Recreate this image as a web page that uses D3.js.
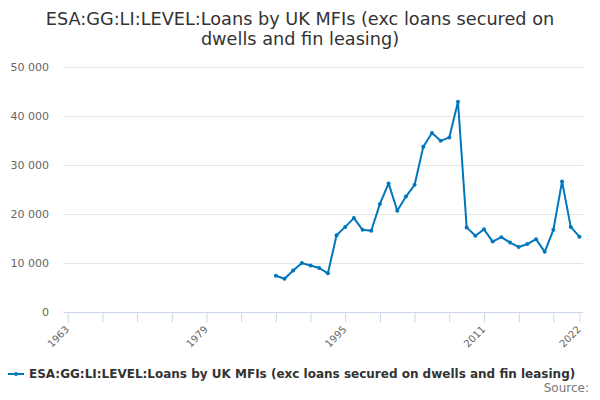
<!DOCTYPE html>
<html>
<head>
<meta charset="utf-8">
<script src="https://cdn.jsdelivr.net/npm/d3@7"></script>
<style>
  body { margin: 0; background: #fff; }
  svg { font-family: "DejaVu Sans", sans-serif; }
  .grid line { stroke: #e6e6e6; }
</style>
</head>
<body>
<svg id="chart" width="600" height="400"></svg>
<script>
// data
const years = [1987, 1988, 1989, 1990, 1991, 1992, 1993, 1994, 1995, 1996, 1997, 1998,
  1999, 2000, 2001, 2002, 2003, 2004, 2005, 2006, 2007, 2008, 2009, 2010, 2011, 2012,
  2013, 2014, 2015, 2016, 2017, 2018, 2019, 2020, 2021, 2022];
const values = [7300, 6700, 8400, 9900, 9400, 8900, 7800, 15600, 17300, 19100, 16700, 16500,
  22000, 26200, 20600, 23500, 25900, 33700, 36500, 34900, 35600, 42900, 17200, 15500, 16800, 14300,
  15200, 14100, 13200, 13800, 14800, 12200, 16700, 26600, 17300, 15300];
const xTicks = [1963, 1967, 1971, 1975, 1979, 1983, 1987, 1991, 1995, 1999, 2003, 2007, 2011, 2015, 2019, 2022];
const xLabels = [1963, 1979, 1995, 2011, 2022];
const yTicks = [0, 10000, 20000, 30000, 40000, 50000];

const title1 = "ESA:GG:LI:LEVEL:Loans by UK MFIs (exc loans secured on";
const title2 = "dwells and fin leasing)";
const seriesName = "ESA:GG:LI:LEVEL:Loans by UK MFIs (exc loans secured on dwells and fin leasing)";

const margin = { left: 64, right: 17, top: 67, bottom: 88.5 };
const width = 600, height = 400;
const plotRight = width - margin.right;
const plotBottom = height - margin.bottom;
const lineColor = "#0077bd";

const svg = d3.select("#chart");

const x = d3.scaleLinear().domain([1963, 2022]).range([67.7, 579.4]);
const y = d3.scaleLinear().domain([0, 50000]).range([plotBottom, margin.top]);

// title
svg.append("text").attr("x", 300).attr("y", 25).attr("text-anchor", "middle")
  .attr("font-size", 17.7).attr("fill", "#333").text(title1);
svg.append("text").attr("x", 300).attr("y", 45).attr("text-anchor", "middle")
  .attr("font-size", 17.7).attr("fill", "#333").text(title2);

// grid
svg.append("g").attr("class", "grid")
  .selectAll("line").data(yTicks.filter(d => d > 0)).enter().append("line")
  .attr("x1", margin.left).attr("x2", plotRight)
  .attr("y1", d => Math.round(y(d)) + 0.5).attr("y2", d => Math.round(y(d)) + 0.5);

// y labels
const fmt = d => d3.format(",")(d).replace(/,/g, " ");
svg.append("g").selectAll("text").data(yTicks).enter().append("text")
  .attr("x", 49).attr("y", d => y(d) + 4)
  .attr("text-anchor", "end").attr("font-size", 11).attr("fill", "#666")
  .text(fmt);

// x axis
const xAxis = d3.axisBottom(x).tickValues(xTicks).tickSize(10)
  .tickFormat(d => xLabels.includes(d) ? d : "");
const gx = svg.append("g").attr("transform", `translate(0,${Math.round(plotBottom) + 0.5})`).call(xAxis);
gx.select(".domain").remove();
gx.selectAll(".tick line").attr("stroke", "#ccd6eb");
gx.append("line").attr("x1", margin.left).attr("x2", plotRight)
  .attr("stroke", "#ccd6eb");
gx.selectAll(".tick text")
  .attr("font-family", "DejaVu Sans, sans-serif")
  .attr("font-size", 10).attr("fill", "#666")
  .attr("text-anchor", "end")
  .attr("y", 0).attr("dy", 0)
  .attr("transform", "translate(1.5,17.5) rotate(-45)");

// line + markers
const line = d3.line().x((d, i) => x(years[i])).y(d => y(d));
svg.append("path").datum(values)
  .attr("d", line).attr("fill", "none")
  .attr("stroke", lineColor).attr("stroke-width", 2)
  .attr("stroke-linejoin", "round");
svg.append("g").selectAll("circle").data(values).enter().append("circle")
  .attr("cx", (d, i) => x(years[i])).attr("cy", d => y(d))
  .attr("r", 2).attr("fill", lineColor);

// legend
svg.append("line").attr("x1", 8).attr("x2", 24).attr("y1", 374).attr("y2", 374)
  .attr("stroke", lineColor).attr("stroke-width", 2);
svg.append("circle").attr("cx", 16).attr("cy", 374).attr("r", 2).attr("fill", lineColor);
svg.append("text").attr("x", 29).attr("y", 378)
  .attr("font-size", 12).attr("font-weight", "bold").attr("fill", "#333")
  .text(seriesName);
svg.append("text").attr("x", 589).attr("y", 392).attr("text-anchor", "end")
  .attr("font-size", 12).attr("fill", "#777").text("Source:");
</script>
</body>
</html>
